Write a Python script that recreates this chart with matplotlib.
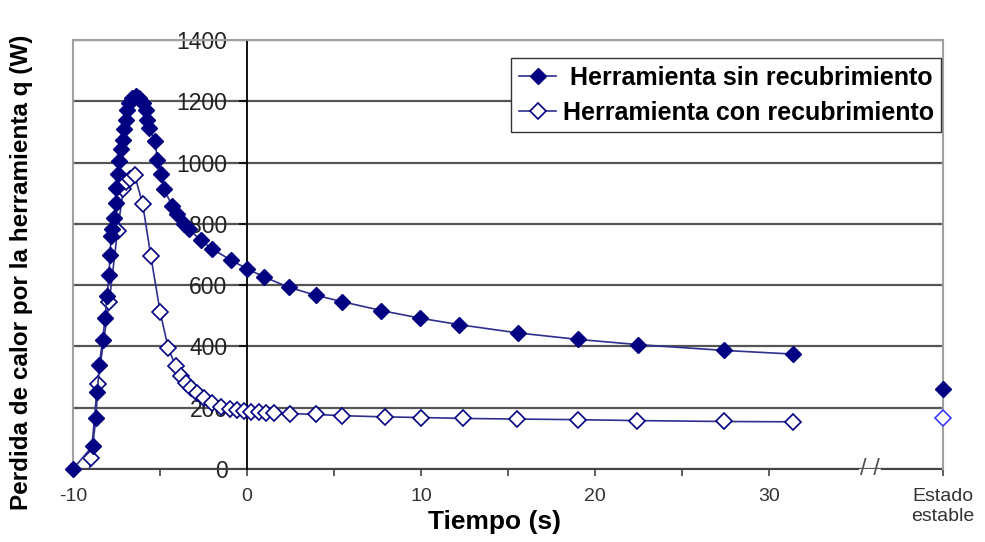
import matplotlib
matplotlib.use("Agg")
import matplotlib.pyplot as plt

plt.rcParams["font.family"] = ["Liberation Sans", "DejaVu Sans"]

# Herramienta sin recubrimiento (tiempo en s, perdida de calor en W)
t_sin = [-10.0, -8.87, -8.68, -8.6, -8.49, -8.3, -8.15, -8.05, -7.92, -7.88,
         -7.8, -7.73, -7.63, -7.55, -7.5, -7.44, -7.34, -7.25, -7.15, -7.06,
         -6.96, -6.87, -6.77, -6.58, -6.39, -6.2, -6.0, -5.81, -5.72, -5.62,
         -5.3, -5.15, -4.95, -4.76, -4.3, -4.0, -3.6, -3.33, -2.66, -1.99,
         -0.94, 0.02, 0.98, 2.4, 3.96, 5.47, 7.73, 9.97, 12.2, 15.57,
         19.0, 22.45, 27.4, 31.4]
q_sin = [0, 75, 167, 251, 338, 422, 493, 563, 634, 699,
         761, 783, 820, 869, 918, 962, 1005, 1043, 1075, 1108,
         1140, 1173, 1195, 1211, 1216, 1211, 1195, 1173, 1140, 1113,
         1072, 1010, 962, 913, 858, 831, 800, 783, 746, 718,
         682, 653, 627, 593, 567, 546, 517, 492, 471, 444,
         423, 406, 387, 375]

# Herramienta con recubrimiento
t_con = [-9.15, -8.97, -8.59, -7.92, -7.44, -7.1, -6.96, -6.7, -6.45, -6.0,
         -5.53, -4.99, -4.53, -4.1, -3.8, -3.5, -3.2, -2.85, -2.45, -2.0,
         -1.5, -1.0, -0.55, -0.15, 0.25, 0.7, 1.1, 1.55, 2.5, 3.95,
         5.45, 7.95, 10.0, 12.4, 15.5, 19.0, 22.4, 27.4, 31.4]
q_con = [-40, 35, 279, 544, 777, 915, 935, 948, 958, 866,
         696, 512, 396, 335, 305, 282, 265, 248, 232, 216,
         203, 195, 191, 188, 186, 185, 184, 183, 181, 178,
         174, 170, 168, 165, 163, 161, 158, 155, 154]

# Estado estable (se dibuja despues del corte del eje)
X_ESTABLE = 40
q_estable_sin = 262
q_estable_con = 168

x_ticks = [-10, 0, 10, 20, 30, 40]
x_labels = ["-10", "0", "10", "20", "30", "Estado\nestable"]
y_ticks = [0, 200, 400, 600, 800, 1000, 1200, 1400]

AZUL = "#000080"
LINEA = "#2e2e8f"
GRIS = "#a0a0a0"
MS = 7.8

fig = plt.figure(figsize=(9.85, 5.42), dpi=100)
ax = fig.add_axes([0.0741, 0.1347, 0.8832, 0.7915])

ax.plot(t_sin, q_sin, color=LINEA, lw=1.2, marker="D", ms=MS,
        mfc=AZUL, mec=AZUL, clip_on=False, zorder=4,
        label=" Herramienta sin recubrimiento")
ax.plot(t_con, q_con, color=LINEA, lw=1.2, marker="D", ms=MS,
        mfc="white", mec=AZUL, mew=1.2, zorder=3,
        label="Herramienta con recubrimiento")
ax.plot([X_ESTABLE], [q_estable_sin], ls="none", marker="D", ms=MS,
        mfc=AZUL, mec=AZUL, clip_on=False, zorder=5)
ax.plot([X_ESTABLE], [q_estable_con], ls="none", marker="D", ms=MS,
        mfc="white", mec="#3a3aff", mew=1.2, clip_on=False, zorder=5)

ax.set_xlim(-10, 40)
ax.set_ylim(0, 1400)

# rejilla horizontal
ax.set_yticks(y_ticks)
ax.yaxis.grid(True, color="#555555", lw=1.6)
ax.set_axisbelow(True)

# eje vertical en t = 0, marco gris
ax.spines["left"].set_position(("data", 0))
ax.spines["left"].set_color("black")
ax.spines["left"].set_linewidth(1.3)
for lado in ["top", "right"]:
    ax.spines[lado].set_color(GRIS)
    ax.spines[lado].set_linewidth(1.5)
ax.spines["bottom"].set_visible(False)
ax.axvline(-10, color=GRIS, lw=1.5, clip_on=False, zorder=1)

# eje horizontal con corte "/ /"
ax.plot([-10, 35.1], [0, 0], color="#444444", lw=1.5, clip_on=False, zorder=2)
ax.plot([36.5, 40], [0, 0], color="#444444", lw=1.5, clip_on=False, zorder=2)
ax.text(35.8, 0, "/ /", ha="center", va="center", fontsize=17, color="#555555")

ax.set_xticks(x_ticks)
ax.set_xticklabels(x_labels)
ax.set_xticks([-5, 5, 15, 25], minor=True)
ax.tick_params(axis="x", which="both", direction="out", length=5, width=1.2,
               color="#444444", labelsize=14, labelcolor="#333333", pad=9)
ax.tick_params(axis="y", direction="out", length=6, width=1.2,
               labelsize=16.5, labelcolor="#222222", pad=8)

fig.text(22 / 985, 1 - 272 / 542, "Perdida de calor por la herramienta q (W)",
         rotation=90, ha="center", va="center", fontsize=17.5, fontweight="bold")
fig.text(494 / 985, 1 - 522 / 542, "Tiempo (s)",
         ha="center", va="center", fontsize=19, fontweight="bold")

leg = ax.legend(loc="upper right", bbox_to_anchor=(0.998, 0.958),
                borderaxespad=0, fancybox=False, framealpha=1,
                edgecolor="#333333", prop={"size": 18, "weight": "bold"},
                handlelength=1.5, handletextpad=0.25, borderpad=0.3,
                labelspacing=0.45)
leg.get_frame().set_linewidth(1.0)

plt.savefig("out.png", dpi=100)
plt.close()
